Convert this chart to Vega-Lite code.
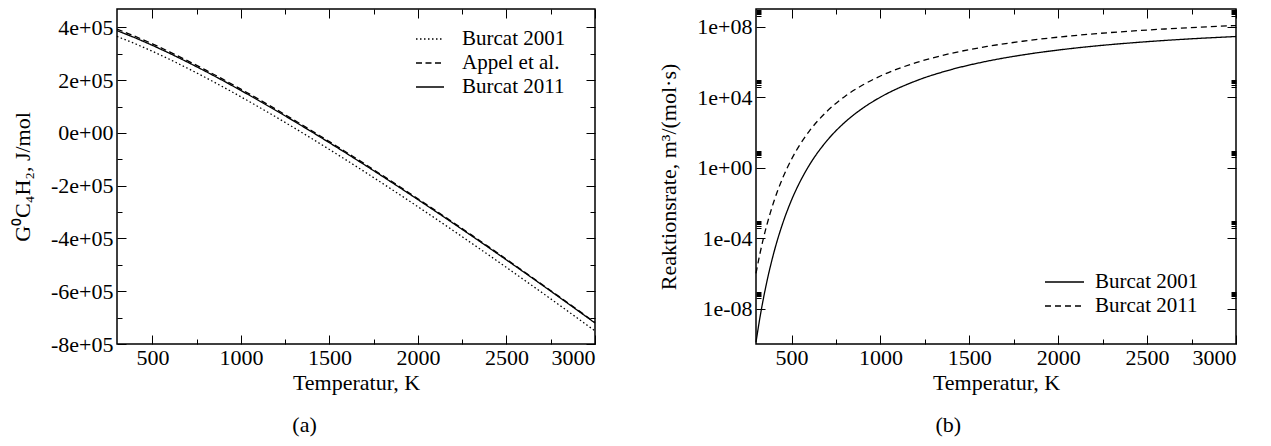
{
  "$schema": "https://vega.github.io/schema/vega-lite/v6.json",
  "background": "white",
  "padding": {"left": 10, "top": 7, "right": 5, "bottom": 5},
  "datasets": {
    "g": [
      {"T":300,"G":388000,"src":"Burcat 2011"},{"T":400,"G":361400,"src":"Burcat 2011"},{"T":500,"G":332300,"src":"Burcat 2011"},{"T":600,"G":301100,"src":"Burcat 2011"},{"T":700,"G":268100,"src":"Burcat 2011"},{"T":800,"G":233700,"src":"Burcat 2011"},{"T":900,"G":198000,"src":"Burcat 2011"},{"T":1000,"G":161100,"src":"Burcat 2011"},{"T":1100,"G":123200,"src":"Burcat 2011"},{"T":1200,"G":84400,"src":"Burcat 2011"},{"T":1300,"G":44700,"src":"Burcat 2011"},{"T":1400,"G":4200,"src":"Burcat 2011"},{"T":1500,"G":-37100,"src":"Burcat 2011"},{"T":1600,"G":-79000,"src":"Burcat 2011"},{"T":1700,"G":-121500,"src":"Burcat 2011"},{"T":1800,"G":-164700,"src":"Burcat 2011"},{"T":1900,"G":-208400,"src":"Burcat 2011"},{"T":2000,"G":-252700,"src":"Burcat 2011"},{"T":2100,"G":-297500,"src":"Burcat 2011"},{"T":2200,"G":-342800,"src":"Burcat 2011"},{"T":2300,"G":-388500,"src":"Burcat 2011"},{"T":2400,"G":-434700,"src":"Burcat 2011"},{"T":2500,"G":-481400,"src":"Burcat 2011"},{"T":2600,"G":-528400,"src":"Burcat 2011"},{"T":2700,"G":-575800,"src":"Burcat 2011"},{"T":2800,"G":-623700,"src":"Burcat 2011"},{"T":2900,"G":-671900,"src":"Burcat 2011"},{"T":3000,"G":-720400,"src":"Burcat 2011"},
      {"T":300,"G":394000,"src":"Appel et al."},{"T":400,"G":367250,"src":"Appel et al."},{"T":500,"G":338000,"src":"Appel et al."},{"T":600,"G":306650,"src":"Appel et al."},{"T":700,"G":273500,"src":"Appel et al."},{"T":800,"G":238960,"src":"Appel et al."},{"T":900,"G":203110,"src":"Appel et al."},{"T":1000,"G":166060,"src":"Appel et al."},{"T":1100,"G":128010,"src":"Appel et al."},{"T":1200,"G":89070,"src":"Appel et al."},{"T":1300,"G":49220,"src":"Appel et al."},{"T":1400,"G":8570,"src":"Appel et al."},{"T":1500,"G":-32880,"src":"Appel et al."},{"T":1600,"G":-74930,"src":"Appel et al."},{"T":1700,"G":-117570,"src":"Appel et al."},{"T":1800,"G":-160920,"src":"Appel et al."},{"T":1900,"G":-204770,"src":"Appel et al."},{"T":2000,"G":-249220,"src":"Appel et al."},{"T":2100,"G":-294170,"src":"Appel et al."},{"T":2200,"G":-339610,"src":"Appel et al."},{"T":2300,"G":-385460,"src":"Appel et al."},{"T":2400,"G":-431810,"src":"Appel et al."},{"T":2500,"G":-478660,"src":"Appel et al."},{"T":2600,"G":-525810,"src":"Appel et al."},{"T":2700,"G":-573360,"src":"Appel et al."},{"T":2800,"G":-621400,"src":"Appel et al."},{"T":2900,"G":-669750,"src":"Appel et al."},{"T":3000,"G":-718400,"src":"Appel et al."},
      {"T":300,"G":366000,"src":"Burcat 2001"},{"T":400,"G":339100,"src":"Burcat 2001"},{"T":500,"G":309710,"src":"Burcat 2001"},{"T":600,"G":278210,"src":"Burcat 2001"},{"T":700,"G":244910,"src":"Burcat 2001"},{"T":800,"G":210220,"src":"Burcat 2001"},{"T":900,"G":174220,"src":"Burcat 2001"},{"T":1000,"G":137030,"src":"Burcat 2001"},{"T":1100,"G":98830,"src":"Burcat 2001"},{"T":1200,"G":59730,"src":"Burcat 2001"},{"T":1300,"G":19740,"src":"Burcat 2001"},{"T":1400,"G":-21060,"src":"Burcat 2001"},{"T":1500,"G":-62660,"src":"Burcat 2001"},{"T":1600,"G":-104850,"src":"Burcat 2001"},{"T":1700,"G":-147650,"src":"Burcat 2001"},{"T":1800,"G":-191140,"src":"Burcat 2001"},{"T":1900,"G":-235140,"src":"Burcat 2001"},{"T":2000,"G":-279740,"src":"Burcat 2001"},{"T":2100,"G":-324830,"src":"Burcat 2001"},{"T":2200,"G":-370430,"src":"Burcat 2001"},{"T":2300,"G":-416430,"src":"Burcat 2001"},{"T":2400,"G":-462920,"src":"Burcat 2001"},{"T":2500,"G":-509920,"src":"Burcat 2001"},{"T":2600,"G":-557210,"src":"Burcat 2001"},{"T":2700,"G":-604910,"src":"Burcat 2001"},{"T":2800,"G":-653110,"src":"Burcat 2001"},{"T":2900,"G":-701600,"src":"Burcat 2001"},{"T":3000,"G":-750400,"src":"Burcat 2001"}
    ],
    "k": [
      {"T":300,"k":1.26e-10,"src":"Burcat 2001"},{"T":320,"k":2.35e-9,"src":"Burcat 2001"},{"T":340,"k":3.09e-8,"src":"Burcat 2001"},{"T":360,"k":3.04e-7,"src":"Burcat 2001"},{"T":380,"k":2.34e-6,"src":"Burcat 2001"},{"T":400,"k":1.46e-5,"src":"Burcat 2001"},{"T":450,"k":6.85e-4,"src":"Burcat 2001"},{"T":500,"k":1.47e-2,"src":"Burcat 2001"},{"T":550,"k":0.177,"src":"Burcat 2001"},{"T":600,"k":1.40,"src":"Burcat 2001"},{"T":700,"k":34.8,"src":"Burcat 2001"},{"T":800,"k":378,"src":"Burcat 2001"},{"T":900,"k":2355,"src":"Burcat 2001"},{"T":1000,"k":10000,"src":"Burcat 2001"},{"T":1200,"k":84140,"src":"Burcat 2001"},{"T":1400,"k":370700,"src":"Burcat 2001"},{"T":1600,"k":1094000,"src":"Burcat 2001"},{"T":1800,"k":2483000,"src":"Burcat 2001"},{"T":2000,"k":4700000,"src":"Burcat 2001"},{"T":2200,"k":7820000,"src":"Burcat 2001"},{"T":2400,"k":11750000,"src":"Burcat 2001"},{"T":2600,"k":16480000,"src":"Burcat 2001"},{"T":2800,"k":21780000,"src":"Burcat 2001"},{"T":3000,"k":27540000,"src":"Burcat 2001"},
      {"T":300,"k":1.0e-6,"src":"Burcat 2011"},{"T":320,"k":1.05e-5,"src":"Burcat 2011"},{"T":340,"k":8.26e-5,"src":"Burcat 2011"},{"T":360,"k":5.18e-4,"src":"Burcat 2011"},{"T":380,"k":2.66e-3,"src":"Burcat 2011"},{"T":400,"k":1.16e-2,"src":"Burcat 2011"},{"T":450,"k":0.256,"src":"Burcat 2011"},{"T":500,"k":3.02,"src":"Burcat 2011"},{"T":550,"k":22.5,"src":"Burcat 2011"},{"T":600,"k":118.9,"src":"Burcat 2011"},{"T":700,"k":1596,"src":"Burcat 2011"},{"T":800,"k":11020,"src":"Burcat 2011"},{"T":900,"k":48750,"src":"Burcat 2011"},{"T":1000,"k":158500,"src":"Burcat 2011"},{"T":1200,"k":905700,"src":"Burcat 2011"},{"T":1400,"k":3069000,"src":"Burcat 2011"},{"T":1600,"k":7520000,"src":"Burcat 2011"},{"T":1800,"k":14830000,"src":"Burcat 2011"},{"T":2000,"k":25350000,"src":"Burcat 2011"},{"T":2200,"k":38900000,"src":"Burcat 2011"},{"T":2400,"k":55100000,"src":"Burcat 2011"},{"T":2600,"k":73600000,"src":"Burcat 2011"},{"T":2800,"k":93800000,"src":"Burcat 2011"},{"T":3000,"k":115100000,"src":"Burcat 2011"}
    ]
  },
  "spacing": 161,
  "bounds": "flush",
  "resolve": {"scale": {"strokeDash": "independent"}, "legend": {"strokeDash": "independent"}},
  "hconcat": [
    {
      "width": 478,
      "height": 335,
      "title": {"text": "(a)", "orient": "bottom", "offset": 22, "anchor": "middle", "frame": "bounds"},
      "data": {"name": "g"},
      "resolve": {"axis": {"x": "independent", "y": "independent"}},
      "layer": [
        {
          "mark": {"type": "line", "strokeWidth": 1.3, "color": "black"},
          "encoding": {
            "x": {"field": "T", "type": "quantitative", "scale": {"domain": [300, 3000], "nice": false, "zero": false},
              "axis": {"orient": "bottom", "values": [500, 1000, 1500, 2000, 2500, 3000], "format": "d", "tickSize": -9, "labelPadding": 12, "domain": false, "title": "Temperatur, K", "titlePadding": 4}},
            "y": {"field": "G", "type": "quantitative", "scale": {"domain": [-800000, 470000], "nice": false, "zero": false},
              "axis": {"orient": "left", "values": [-800000, -600000, -400000, -200000, 0, 200000, 400000], "labelExpr": "datum.value == 0 ? '0e+00' : (datum.value / 100000) + 'e+05'", "tickSize": -9, "labelPadding": 13, "domain": false, "title": "G⁰C₄H₂, J/mol", "titlePadding": 16}},
            "strokeDash": {"field": "src", "type": "nominal",
              "scale": {"domain": ["Burcat 2001", "Appel et al.", "Burcat 2011"], "range": [[1.5, 2.5], [6, 3.5], [1, 0]]},
              "legend": {"title": null, "orient": "none", "legendX": 298, "legendY": 18, "symbolType": "stroke", "symbolSize": 784, "symbolStrokeWidth": 1.3, "symbolStrokeColor": "black", "labelOffset": 17, "clipHeight": 24, "rowPadding": 0, "padding": 0, "labelLimit": 300}}
          }
        },
        {
          "mark": {"type": "line", "strokeOpacity": 0},
          "encoding": {
            "x": {"field": "T", "type": "quantitative", "scale": {"domain": [300, 3000], "nice": false, "zero": false},
              "axis": {"orient": "top", "values": [500, 1000, 1500, 2000, 2500, 3000], "tickSize": -9, "labels": false, "domain": false, "title": null}},
            "y": {"field": "G", "type": "quantitative", "scale": {"domain": [-800000, 470000], "nice": false, "zero": false},
              "axis": {"orient": "right", "values": [-800000, -600000, -400000, -200000, 0, 200000, 400000], "tickSize": -9, "labels": false, "domain": false, "title": null}},
            "detail": {"field": "src"}
          }
        },
        {
          "mark": {"type": "line", "strokeOpacity": 0},
          "encoding": {
            "x": {"field": "T", "type": "quantitative", "scale": {"domain": [300, 3000], "nice": false, "zero": false},
              "axis": {"orient": "bottom", "values": [750, 1250, 1750, 2250, 2750], "tickSize": -5, "labels": false, "domain": false, "title": null}},
            "y": {"field": "G", "type": "quantitative", "scale": {"domain": [-800000, 470000], "nice": false, "zero": false},
              "axis": {"orient": "left", "values": [-700000, -500000, -300000, -100000, 100000, 300000], "tickSize": -5, "labels": false, "domain": false, "title": null}},
            "detail": {"field": "src"}
          }
        },
        {
          "mark": {"type": "line", "strokeOpacity": 0},
          "encoding": {
            "x": {"field": "T", "type": "quantitative", "scale": {"domain": [300, 3000], "nice": false, "zero": false},
              "axis": {"orient": "top", "values": [750, 1250, 1750, 2250, 2750], "tickSize": -5, "labels": false, "domain": false, "title": null}},
            "y": {"field": "G", "type": "quantitative", "scale": {"domain": [-800000, 470000], "nice": false, "zero": false},
              "axis": {"orient": "right", "values": [-700000, -500000, -300000, -100000, 100000, 300000], "tickSize": -5, "labels": false, "domain": false, "title": null}},
            "detail": {"field": "src"}
          }
        }
      ]
    },
    {
      "width": 480,
      "height": 335,
      "title": {"text": "(b)", "orient": "bottom", "offset": 22, "anchor": "middle", "frame": "bounds"},
      "data": {"name": "k"},
      "resolve": {"axis": {"x": "independent", "y": "independent"}},
      "layer": [
        {
          "mark": {"type": "line", "strokeWidth": 1.3, "color": "black", "interpolate": "monotone"},
          "encoding": {
            "x": {"field": "T", "type": "quantitative", "scale": {"domain": [300, 3000], "nice": false, "zero": false},
              "axis": {"orient": "bottom", "values": [500, 1000, 1500, 2000, 2500, 3000], "format": "d", "tickSize": -9, "labelPadding": 12, "domain": false, "title": "Temperatur, K", "titlePadding": 4}},
            "y": {"field": "k", "type": "quantitative", "scale": {"type": "log", "domain": [1e-10, 1e9], "nice": false},
              "axis": {"orient": "left", "values": [1e-8, 1e-4, 1, 1e4, 1e8], "labelExpr": "'1e' + (datum.value >= 1 ? '+' : '-') + (abs(round(log(datum.value) / LN10)) < 10 ? '0' : '') + abs(round(log(datum.value) / LN10))", "tickSize": -9, "labelPadding": 13, "domain": false, "title": "Reaktionsrate, m³/(mol·s)", "titlePadding": 16}},
            "strokeDash": {"field": "src", "type": "nominal",
              "scale": {"domain": ["Burcat 2001", "Burcat 2011"], "range": [[1, 0], [6, 4]]},
              "legend": {"title": null, "orient": "none", "legendX": 288, "legendY": 261, "symbolType": "stroke", "symbolSize": 1521, "symbolStrokeWidth": 1.3, "symbolStrokeColor": "black", "labelOffset": 10, "clipHeight": 24, "rowPadding": 0, "padding": 0, "labelLimit": 300}}
          }
        },
        {
          "mark": {"type": "line", "strokeOpacity": 0},
          "encoding": {
            "x": {"field": "T", "type": "quantitative", "scale": {"domain": [300, 3000], "nice": false, "zero": false},
              "axis": {"orient": "top", "values": [500, 1000, 1500, 2000, 2500, 3000], "tickSize": -9, "labels": false, "domain": false, "title": null}},
            "y": {"field": "k", "type": "quantitative", "scale": {"type": "log", "domain": [1e-10, 1e9], "nice": false},
              "axis": {"orient": "right", "values": [1e-8, 1e-4, 1, 1e4, 1e8], "tickSize": -9, "labels": false, "domain": false, "title": null}},
            "detail": {"field": "src"}
          }
        },
        {
          "mark": {"type": "line", "strokeOpacity": 0},
          "encoding": {
            "x": {"field": "T", "type": "quantitative", "scale": {"domain": [300, 3000], "nice": false, "zero": false},
              "axis": {"orient": "bottom", "values": [750, 1250, 1750, 2250, 2750], "tickSize": -5, "labels": false, "domain": false, "title": null}},
            "y": {"field": "k", "type": "quantitative", "scale": {"type": "log", "domain": [1e-10, 1e9], "nice": false},
              "axis": {"orient": "left", "values": [4e-8, 5e-8, 6e-8, 7e-8, 8e-8, 9e-8, 4e-4, 5e-4, 6e-4, 7e-4, 8e-4, 9e-4, 4, 5, 6, 7, 8, 9, 40000, 50000, 60000, 70000, 80000, 90000, 400000000, 500000000, 600000000, 700000000, 800000000, 900000000], "tickSize": -5, "labels": false, "domain": false, "title": null}},
            "detail": {"field": "src"}
          }
        },
        {
          "mark": {"type": "line", "strokeOpacity": 0},
          "encoding": {
            "x": {"field": "T", "type": "quantitative", "scale": {"domain": [300, 3000], "nice": false, "zero": false},
              "axis": {"orient": "top", "values": [750, 1250, 1750, 2250, 2750], "tickSize": -5, "labels": false, "domain": false, "title": null}},
            "y": {"field": "k", "type": "quantitative", "scale": {"type": "log", "domain": [1e-10, 1e9], "nice": false},
              "axis": {"orient": "right", "values": [4e-8, 5e-8, 6e-8, 7e-8, 8e-8, 9e-8, 4e-4, 5e-4, 6e-4, 7e-4, 8e-4, 9e-4, 4, 5, 6, 7, 8, 9, 40000, 50000, 60000, 70000, 80000, 90000, 400000000, 500000000, 600000000, 700000000, 800000000, 900000000], "tickSize": -5, "labels": false, "domain": false, "title": null}},
            "detail": {"field": "src"}
          }
        }
      ]
    }
  ],
  "config": {
    "view": {"stroke": "black", "strokeWidth": 1.5},
    "font": "Liberation Serif",
    "axis": {"labelFont": "Liberation Serif", "labelFontSize": 22, "titleFont": "Liberation Serif", "titleFontSize": 22, "titleFontWeight": "normal", "labelColor": "black", "titleColor": "black", "tickColor": "black", "tickWidth": 1, "grid": false},
    "legend": {"labelFont": "Liberation Serif", "labelFontSize": 21, "labelColor": "black"},
    "title": {"font": "Liberation Serif", "fontSize": 22, "fontWeight": "normal", "color": "black"}
  }
}
